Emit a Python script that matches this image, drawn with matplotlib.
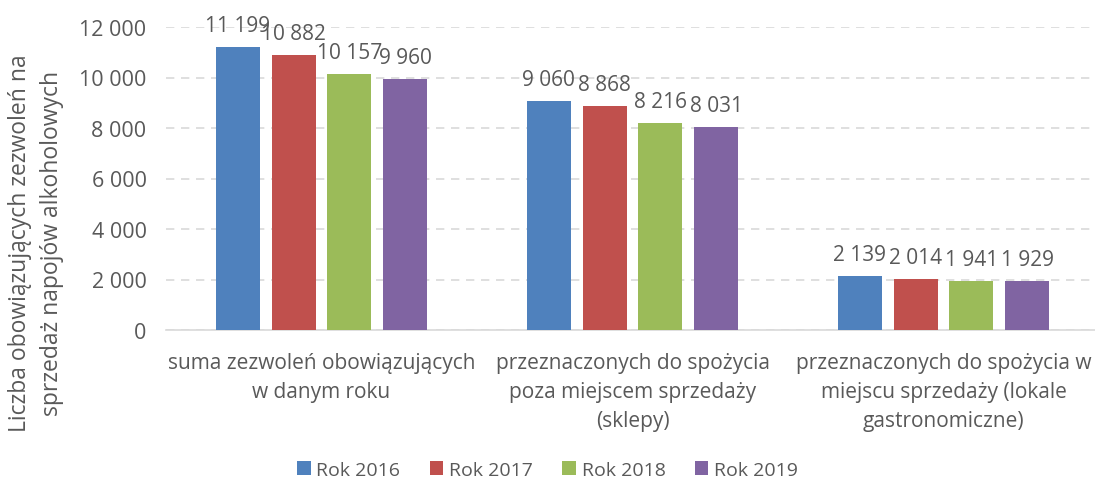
import numpy as np
import matplotlib
matplotlib.use('Agg')
import matplotlib.pyplot as plt

# chart data
categories = ['suma zezwoleń obowiązujących\nw danym roku',
              'przeznaczonych do spożycia\npoza miejscem sprzedaży\n(sklepy)',
              'przeznaczonych do spożycia w\nmiejscu sprzedaży (lokale\ngastronomiczne)']
series_names = ['Rok 2016', 'Rok 2017', 'Rok 2018', 'Rok 2019']
rok_2016 = [11199, 9060, 2139]
rok_2017 = [10882, 8868, 2014]
rok_2018 = [10157, 8216, 1941]
rok_2019 = [9960, 8031, 1929]
colors = ['#4F81BD', '#C0504D', '#9BBB59', '#8064A2']
yticks = [0, 2000, 4000, 6000, 8000, 10000, 12000]

plt.rcParams['font.family'] = ['Open Sans', 'DejaVu Sans']
text_col = '#595959'

fig = plt.figure(figsize=(10.95, 4.85), dpi=100)
ax = fig.add_axes([166/1095, 1-331/485, 933/1095, 303/485])

x = np.arange(len(categories))
width = 0.1415
step = 0.18
for i, (name, vals) in enumerate(zip(series_names, [rok_2016, rok_2017, rok_2018, rok_2019])):
    pos = x + (i - 1.5) * step
    ax.bar(pos, vals, width, color=colors[i], label=name, zorder=3)
    for p, v in zip(pos, vals):
        lab = f'{v:,}'.replace(',', ' ')
        ax.text(p, v + 430, lab, ha='center', va='bottom', fontsize=15, color=text_col)

ax.set_xlim(-0.5, 2.5)
ax.set_ylim(0, 12000)
ax.set_yticks(yticks)
ax.set_yticklabels([f'{t:,}'.replace(',', ' ') for t in yticks], fontsize=15.5, color=text_col)
ax.set_xticks(x)
ax.set_xticklabels(categories, fontsize=15, color=text_col, linespacing=1.5)
ax.tick_params(axis='both', length=0)
ax.tick_params(axis='x', pad=16)
ax.tick_params(axis='y', pad=14)
ax.yaxis.grid(True, color='#D9D9D9', linestyle=(0, (5, 4)), linewidth=1.2, zorder=0)
for s in ['top', 'right', 'left']:
    ax.spines[s].set_visible(False)
ax.spines['bottom'].set_color('#D9D9D9')
ax.spines['bottom'].set_linewidth(1.2)

fig.text(8/1095, 1-243/485, 'Liczba obowiązujących zezwoleń na\nsprzedaż napojów alkoholowych',
         rotation=90, ha='left', va='center', multialignment='center',
         fontsize=16.5, color=text_col, linespacing=1.45)

fig.legend(loc='center', bbox_to_anchor=(0.5, 1-471/485), ncol=4, frameon=False,
           fontsize=14, handlelength=0.7, handleheight=0.7, handletextpad=0.3, columnspacing=1.5,
           labelcolor=text_col)

fig.savefig('out.png', dpi=100)
